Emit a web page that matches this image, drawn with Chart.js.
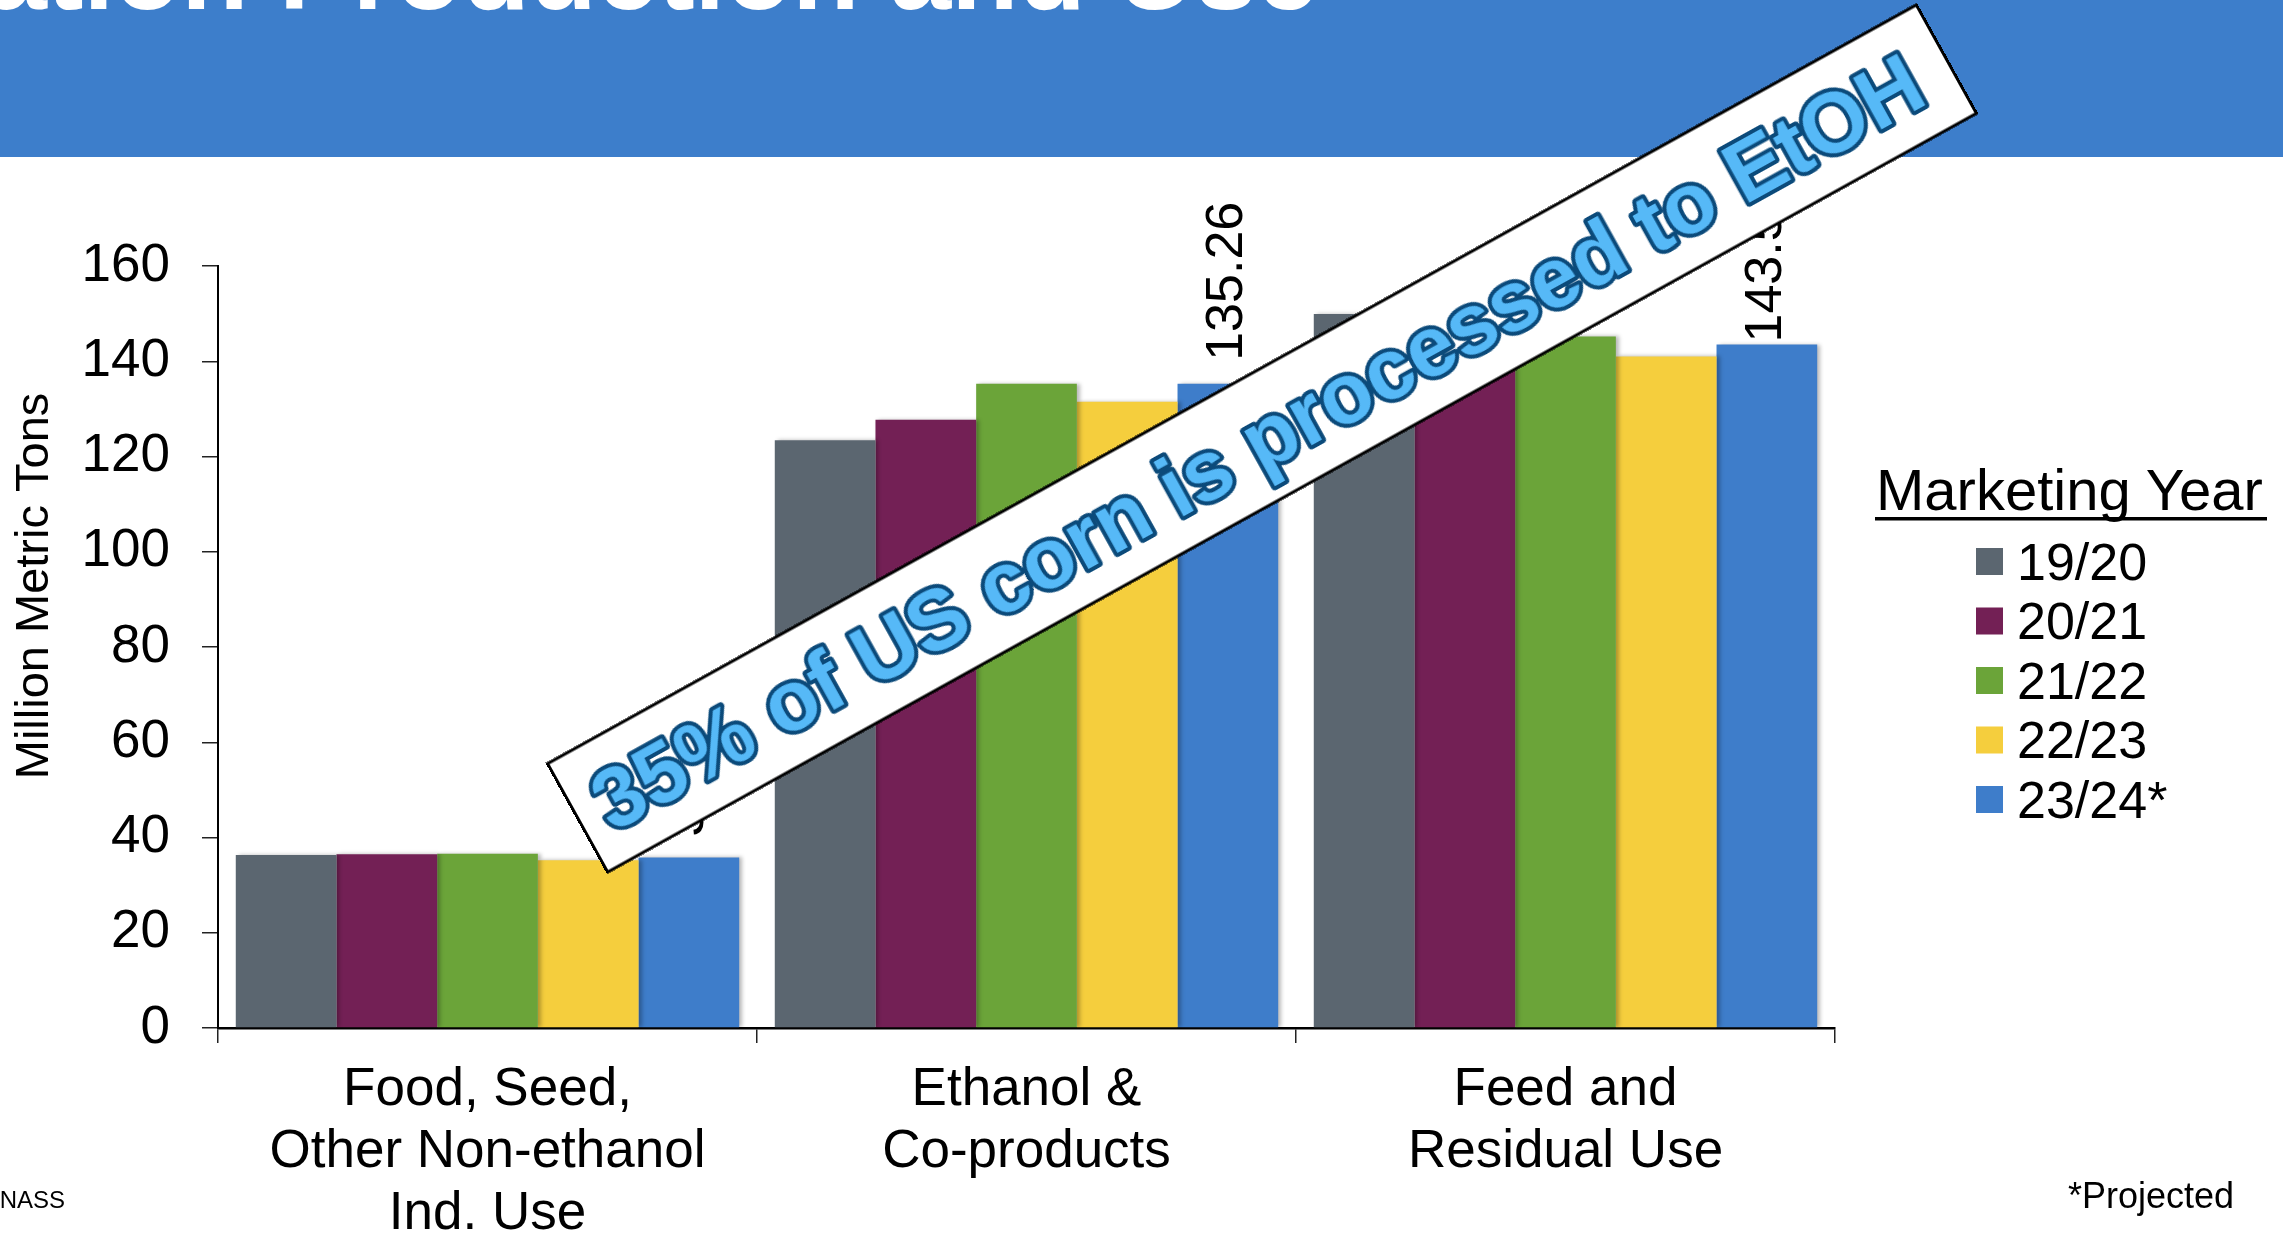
<!DOCTYPE html>
<html>
<head>
<meta charset="utf-8">
<script src="https://cdn.jsdelivr.net/npm/chart.js@4.4.1/dist/chart.umd.min.js"></script>
<style>
  html, body { margin: 0; padding: 0; background: #fff; }
  #page { position: relative; width: 2283px; height: 1235px; overflow: hidden; }
  #chart { position: absolute; left: 0; top: 0; }
  #overlay { position: absolute; left: 0; top: 0; pointer-events: none; }
  svg text { font-family: "Liberation Sans", Arial, sans-serif; }
</style>
</head>
<body>
<div id="page">
  <canvas id="chart" width="2283" height="1235"></canvas>
  <svg id="overlay" width="2283" height="1235">
    <rect x="0" y="0" width="2283" height="157" fill="#3d7ecb"/>
    <text x="1318" y="9" text-anchor="end" font-size="110" font-weight="bold" fill="#fff">Corn Utilization Production and Use</text>
    <g id="legend"></g>
    <text x="65" y="1208" text-anchor="end" font-size="24" fill="#000">Source: USDA-NASS</text>
    <text x="2068" y="1208" font-size="36" fill="#000">*Projected</text>
    <g transform="translate(1262 438.5) rotate(-29)">
      <rect x="-782.5" y="-62" width="1565" height="124" fill="#fff" stroke="#000" stroke-width="3"/>
      <text x="-6" y="30" text-anchor="middle" font-size="85" font-weight="bold" fill="#56b9f7" stroke="#0b4a7a" stroke-width="8" stroke-linejoin="round" paint-order="stroke">35% of US corn is processed to EtOH</text>
    </g>
  </svg>
</div>
<script>
// categories (x axis), one line per array entry
var categories = [
  ['Food, Seed,', 'Other Non-ethanol', 'Ind. Use'],
  ['Ethanol &', 'Co-products'],
  ['Feed and', 'Residual Use']
];

// marketing years and their colours
var seriesLabels = ['19/20', '20/21', '21/22', '22/23', '23/24*'];
var seriesColors = ['#5b6670', '#732055', '#6ba439', '#f5ce3d', '#3e7dca'];

// million metric tons, per category
var mmt1920 = [36.3, 123.4, 149.9];
var mmt2021 = [36.5, 127.7, 142.4];
var mmt2122 = [36.6, 135.3, 145.2];
var mmt2223 = [35.2, 131.5, 141.0];
var mmt2324 = [35.81, 135.26, 143.51];

// y axis
var yMin = 0;
var yMax = 160;
var yStep = 20;
var yTitle = 'Million Metric Tons';

var seriesValues = [mmt1920, mmt2021, mmt2122, mmt2223, mmt2324];
var FONT = '"Liberation Sans", Arial, sans-serif';

Chart.defaults.font.family = FONT;
Chart.defaults.color = '#000';

/* ombre légère sous les barres */
var barShadow = {
  id: 'barShadow',
  beforeDatasetsDraw: function(chart) {
    var ctx = chart.ctx;
    ctx.save();
    ctx.shadowColor = 'rgba(0,0,0,0.28)';
    ctx.shadowBlur = 4;
    ctx.shadowOffsetX = 3;
    ctx.shadowOffsetY = 0;
  },
  afterDatasetsDraw: function(chart) {
    chart.ctx.restore();
  }
};

/* étiquettes verticales au-dessus de la série 23/24 */
var valueLabels = {
  id: 'valueLabels',
  afterDatasetsDraw: function(chart) {
    var ctx = chart.ctx;
    var last = seriesValues.length - 1;
    var meta = chart.getDatasetMeta(last);
    var gaps = [21, 23, 2];
    ctx.save();
    ctx.font = '52px ' + FONT;
    ctx.fillStyle = '#000';
    ctx.textAlign = 'left';
    ctx.textBaseline = 'middle';
    meta.data.forEach(function(bar, i) {
      ctx.save();
      ctx.translate(bar.x, bar.y - gaps[i]);
      ctx.rotate(-Math.PI / 2);
      ctx.fillText(seriesValues[last][i].toFixed(2), 0, 0);
      ctx.restore();
    });
    ctx.restore();
  }
};

/* titre de l'axe Y, un peu au-dessus du centre comme sur l'original */
var axisTitle = {
  id: 'axisTitle',
  afterDraw: function(chart) {
    var ctx = chart.ctx;
    ctx.save();
    ctx.font = '47px ' + FONT;
    ctx.fillStyle = '#000';
    ctx.textAlign = 'center';
    ctx.textBaseline = 'middle';
    ctx.translate(35, 586);
    ctx.rotate(-Math.PI / 2);
    ctx.fillText(yTitle, 0, 0);
    ctx.restore();
  }
};

var datasets = seriesLabels.map(function(label, i) {
  return {
    label: label,
    data: seriesValues[i],
    backgroundColor: seriesColors[i],
    borderWidth: 0,
    categoryPercentage: 0.934,
    barPercentage: 1.0
  };
});

var ctx = document.getElementById('chart').getContext('2d');
var chart = new Chart(ctx, {
  type: 'bar',
  data: { labels: categories, datasets: datasets },
  options: {
    responsive: false,
    animation: false,
    devicePixelRatio: 1,
    layout: { padding: { left: 0, right: 448, top: 266, bottom: 0 } },
    plugins: {
      legend: { display: false },
      tooltip: { enabled: false }
    },
    scales: {
      x: {
        grid: { offset: true, drawOnChartArea: false, drawTicks: true, tickLength: 15, color: '#222', lineWidth: 1.5 },
        border: { display: true, color: '#000', width: 2.5 },
        ticks: {
          color: '#000',
          font: { size: 53, lineHeight: 1.17 },
          padding: 16,
          maxRotation: 0,
          autoSkip: false
        },
        afterFit: function(scale) { scale.height = 207; }
      },
      y: {
        min: yMin,
        max: yMax,
        ticks: { stepSize: yStep, color: '#000', font: { size: 53 }, padding: 32 },
        grid: { drawOnChartArea: false, drawTicks: true, tickLength: 16, color: '#222', lineWidth: 1.5 },
        border: { display: true, color: '#000', width: 2 },
        title: { display: false, text: yTitle },
        afterFit: function(scale) { scale.width = 218; }
      }
    }
  },
  plugins: [barShadow, valueLabels, axisTitle]
});

/* légende "Marketing Year" construite depuis les séries */
var NS = 'http://www.w3.org/2000/svg';
var legend = document.getElementById('legend');
var title = document.createElementNS(NS, 'text');
title.setAttribute('x', 1876);
title.setAttribute('y', 510);
title.setAttribute('font-size', 58);
title.setAttribute('fill', '#000');
title.textContent = 'Marketing Year';
legend.appendChild(title);
var underline = document.createElementNS(NS, 'rect');
underline.setAttribute('x', 1875);
underline.setAttribute('y', 517);
underline.setAttribute('width', 392);
underline.setAttribute('height', 3.5);
underline.setAttribute('fill', '#000');
legend.appendChild(underline);

seriesLabels.forEach(function(label, i) {
  var cy = 561.5 + i * 59.5;
  var box = document.createElementNS(NS, 'rect');
  box.setAttribute('x', 1976);
  box.setAttribute('y', cy - 13.5);
  box.setAttribute('width', 27);
  box.setAttribute('height', 27);
  box.setAttribute('fill', seriesColors[i]);
  legend.appendChild(box);
  var t = document.createElementNS(NS, 'text');
  t.setAttribute('x', 2017);
  t.setAttribute('y', cy + 18);
  t.setAttribute('font-size', 52);
  t.setAttribute('fill', '#000');
  t.textContent = label;
  legend.appendChild(t);
});
</script>
</body>
</html>
